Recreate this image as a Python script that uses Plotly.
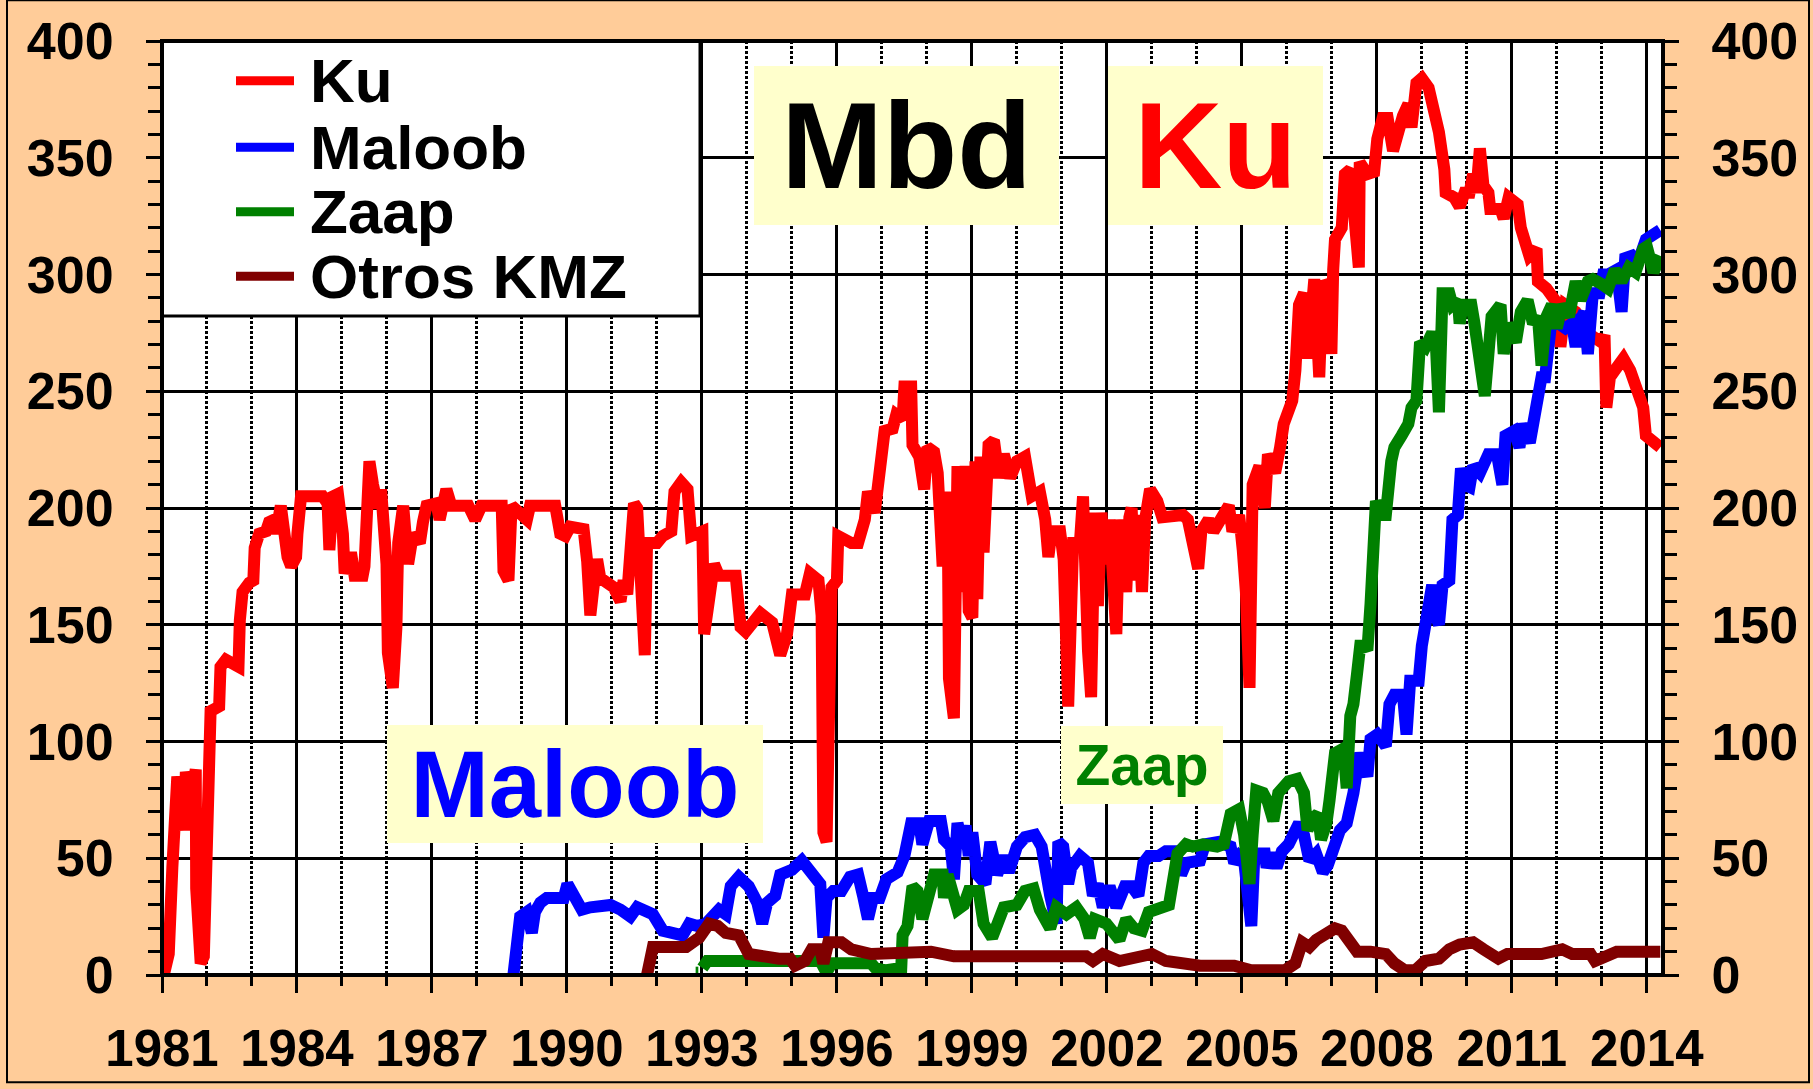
import plotly.graph_objects as go

# ---------------- data ----------------
ku_year = [1981.04, 1981.15, 1981.23, 1981.30, 1981.34, 1981.49, 1981.53, 1981.64, 1981.75, 1981.76,
           1981.86, 1981.93, 1981.97, 1982.04, 1982.08, 1982.27, 1982.30, 1982.42, 1982.70, 1982.73,
           1982.79, 1982.94, 1983.03, 1983.06, 1983.16, 1983.31, 1983.38, 1983.49, 1983.53, 1983.64,
           1983.72, 1983.79, 1983.87, 1983.98, 1984.01, 1984.09, 1984.57, 1984.68, 1984.72, 1984.80,
           1984.91, 1985.02, 1985.06, 1985.20, 1985.28, 1985.46, 1985.50, 1985.54, 1985.61, 1985.69,
           1985.80, 1985.87, 1985.99, 1986.02, 1986.13, 1986.21, 1986.25, 1986.36, 1986.47, 1986.58,
           1986.73, 1986.80, 1986.88, 1987.10, 1987.17, 1987.32, 1987.43, 1987.81, 1987.96, 1988.10,
           1988.55, 1988.59, 1988.70, 1988.77, 1989.11, 1989.18, 1989.74, 1989.85, 1989.96, 1990.07,
           1990.37, 1990.45, 1990.52, 1990.59, 1990.67, 1990.74, 1991.04, 1991.19, 1991.26, 1991.34,
           1991.41, 1991.49, 1991.56, 1991.64, 1991.73, 1991.78, 1992.00,
           1992.13, 1992.32, 1992.39, 1992.54, 1992.68, 1992.76, 1993.01, 1993.05, 1993.16, 1993.27,
           1993.38, 1993.75, 1993.86, 1993.97, 1994.30, 1994.56, 1994.74, 1994.89, 1995.00, 1995.29,
           1995.40, 1995.59, 1995.66, 1995.70, 1995.77, 1995.81, 1995.88, 1996.00, 1996.03, 1996.32,
           1996.47, 1996.62, 1996.69, 1996.84, 1996.91, 1996.99, 1997.06, 1997.24, 1997.32, 1997.46,
           1997.50, 1997.65, 1997.68, 1997.83, 1997.94, 1998.01, 1998.16, 1998.24, 1998.31, 1998.35,
           1998.46, 1998.49, 1998.60, 1998.68, 1998.79, 1998.86, 1998.93, 1999.01, 1999.08, 1999.12,
           1999.19, 1999.26, 1999.37, 1999.49, 1999.60, 1999.71, 1999.85, 2000.00, 2000.18, 2000.33,
           2000.51, 2000.63, 2000.70, 2000.77, 2000.96, 2001.04, 2001.14, 2001.25, 2001.40, 2001.47,
           2001.58, 2001.65, 2001.73, 2001.80, 2001.88, 2001.95, 2002.06, 2002.21, 2002.28, 2002.43,
           2002.50,
           2002.55, 2002.62, 2002.70, 2002.78, 2002.85, 2002.96, 2003.12, 2003.23, 2003.69, 2003.80,
           2003.88, 2004.03, 2004.10, 2004.26, 2004.37, 2004.56, 2004.71, 2004.79, 2004.94, 2005.02,
           2005.09, 2005.17, 2005.21, 2005.24, 2005.39, 2005.51, 2005.58, 2005.74, 2005.85, 2005.93,
           2006.12, 2006.19, 2006.27, 2006.38, 2006.46, 2006.53, 2006.61, 2006.72, 2006.80, 2006.91,
           2006.99, 2007.03, 2007.07, 2007.22, 2007.29, 2007.41, 2007.48, 2007.60, 2007.62, 2007.79,
           2007.94, 2008.01, 2008.13, 2008.24, 2008.36, 2008.47, 2008.58, 2008.70, 2008.77, 2008.88,
           2009.00, 2009.15, 2009.26, 2009.38, 2009.50, 2009.53, 2009.72, 2009.84, 2009.95, 2010.06,
           2010.14, 2010.21, 2010.29, 2010.37, 2010.48, 2010.52, 2010.75, 2010.82, 2010.93, 2011.13,
           2011.20, 2011.32, 2011.39, 2011.55, 2011.58, 2011.77, 2011.96, 2012.04, 2012.08, 2012.19,
           2012.42, 2012.57, 2012.76, 2012.99, 2013.06, 2013.10, 2013.18, 2013.29, 2013.48, 2013.63,
           2013.80, 2013.92, 2013.98, 2014.15, 2014.30]
ku_mbd = [0, 9, 46, 62, 85, 62, 87, 76, 88, 37,
          5, 8, 40, 101, 113, 115, 132, 135, 132, 152,
          164, 168, 169, 183, 189, 190, 194, 195, 189, 201,
          188, 179, 175, 179, 189, 205, 205, 202, 182, 205,
          206, 189, 172, 181, 171, 171, 175, 201, 220, 210,
          200, 208, 176, 138, 123, 149, 185, 201, 176, 189,
          185, 194, 201, 202, 195, 208, 201, 201, 195, 201,
          201, 173, 169, 201, 195, 201, 201, 189, 188, 192,
          191, 177, 154, 166, 178, 170, 166, 160, 169, 163,
          192, 202, 200, 152, 137, 185, 185,
          188, 190, 207, 211, 208, 188, 190, 146, 161, 176,
          171, 171, 149, 147, 155, 151, 137, 146, 163, 163,
          172, 169, 154, 61, 57, 110, 166, 169, 188, 185,
          185, 195, 207, 198, 212, 229, 233, 234, 240, 238,
          252, 252, 227, 222, 208, 226, 224, 215, 191, 175,
          207, 127, 110, 218, 164, 218, 156, 153, 220, 161,
          222, 181, 227, 229, 213, 223, 213, 220, 222, 205,
          207, 195, 179, 190, 190, 178, 115, 185, 185, 205,
          139, 119, 198, 158, 198, 176, 195, 146, 195, 164,
          196,
          200, 169, 197, 164, 195, 208, 203, 196, 197, 195,
          187, 174, 190, 195, 190, 197, 201, 190, 197, 182,
          164, 123, 169, 210, 218, 200, 223, 215, 226, 236,
          246, 259, 287, 292, 264, 292, 298, 256, 297, 294,
          266, 302, 315, 320, 343, 345, 328, 303, 348, 343,
          344, 358, 367, 367, 353, 363, 368, 373, 363, 382,
          384, 380, 373, 361, 345, 335, 333, 329, 335, 335,
          343, 335, 354, 338, 335, 328, 328, 324, 333, 330,
          320, 312, 308, 311, 297, 294, 289, 284, 269, 287,
          284, 279, 274, 271, 274, 243, 256, 259, 264, 259,
          248, 243, 231, 228, 226]

maloob_year = [1988.81, 1988.88, 1988.96, 1989.11, 1989.22, 1989.29, 1989.41, 1989.55, 1989.93, 1990.01,
               1990.15, 1990.33, 1990.52, 1990.97, 1991.19, 1991.41, 1991.56, 1991.91, 1992.13, 1992.35,
               1992.57, 1992.72, 1992.90, 1993.09, 1993.38, 1993.53, 1993.64, 1993.82, 1994.04, 1994.23,
               1994.34, 1994.45, 1994.63, 1994.74, 1995.00, 1995.22, 1995.40, 1995.63, 1995.70, 1995.77,
               1995.92, 1996.10, 1996.29, 1996.47, 1996.58, 1996.69, 1996.80, 1996.95, 1997.10, 1997.35,
               1997.50, 1997.65, 1997.83, 1997.90, 1998.05, 1998.31, 1998.38, 1998.53, 1998.60, 1998.68,
               1998.79, 1998.86, 1998.93, 1999.01, 1999.12, 1999.30, 1999.41, 1999.56, 1999.71, 1999.82,
               2000.00, 2000.18, 2000.40, 2000.55, 2000.74, 2000.88, 2000.92, 2001.03, 2001.14, 2001.21,
               2001.40, 2001.58, 2001.69, 2001.80, 2001.91, 2002.06, 2002.21, 2002.40, 2002.55, 2002.70,
               2002.81, 2002.93, 2003.15, 2003.31, 2003.53, 2003.65, 2003.76, 2004.07, 2004.18, 2004.48,
               2004.60, 2004.75, 2004.83, 2004.94, 2005.05, 2005.13, 2005.21, 2005.28, 2005.51, 2005.55,
               2005.66, 2005.77, 2005.89, 2006.04, 2006.27, 2006.38, 2006.50, 2006.65, 2006.80, 2006.91,
               2007.10, 2007.18, 2007.33, 2007.41, 2007.48, 2007.56, 2007.63, 2007.79, 2007.86, 2008.01,
               2008.20, 2008.28, 2008.39, 2008.58, 2008.66, 2008.74, 2008.93, 2009.00, 2009.08, 2009.15,
               2009.23, 2009.31, 2009.38, 2009.46, 2009.61, 2009.68, 2009.80, 2009.87, 2009.95, 2010.06,
               2010.14, 2010.29, 2010.48, 2010.67, 2010.79, 2010.86, 2011.05, 2011.17, 2011.25, 2011.40,
               2011.47, 2011.58, 2011.66, 2011.74, 2011.81, 2011.89, 2012.04, 2012.19, 2012.34, 2012.42,
               2012.49, 2012.61, 2012.69, 2012.80, 2012.95, 2013.03, 2013.14, 2013.33, 2013.44, 2013.52,
               2013.67, 2013.80, 2013.98, 2014.15, 2014.30]
maloob_mbd = [0, 12, 25, 27, 18, 27, 31, 33, 33, 39,
              33, 28, 29, 30, 28, 25, 29, 26, 19, 18,
              17, 22, 21, 22, 28, 26, 38, 42, 38, 31,
              22, 31, 34, 43, 45, 49, 44, 39, 16, 33,
              36, 36, 42, 43, 34, 24, 33, 33, 41, 44,
              51, 65, 65, 56, 66, 66, 58, 55, 41, 65,
              56, 64, 51, 61, 43, 39, 57, 43, 51, 44,
              55, 59, 60, 55, 34, 22, 57, 55, 39, 46,
              51, 48, 34, 39, 29, 38, 29, 38, 38, 34,
              48, 51, 51, 53, 53, 43, 48, 49, 56, 57,
              56, 55, 48, 51, 49, 34, 21, 52, 52, 46,
              52, 46, 53, 56, 65, 60, 49, 52, 44, 47,
              57, 62, 65, 70, 78, 88, 95, 85, 101, 103,
              98, 116, 120, 120, 103, 126, 126, 141, 149, 162,
              167, 154, 150, 167, 169, 195, 197, 217, 210, 209,
              218, 215, 223, 223, 210, 231, 233, 226, 236, 228,
              236, 243, 256, 256, 274, 282, 279, 277, 279, 269,
              279, 284, 266, 292, 292, 300, 300, 302, 284, 307,
              308, 305, 315, 317, 319]

zaap_year = [1992.86, 1992.92, None, 1993.01, 1993.12, 1995.59, 1995.66, 1995.77, 1995.88, 1996.76,
             1996.85, 1997.06, 1997.43, 1997.46, 1997.57, 1997.68, 1997.79, 1997.90, 1998.01, 1998.16,
             1998.35, 1998.38, 1998.46, 1998.68, 1998.82, 1998.93, 1999.15, 1999.26, 1999.45, 1999.60,
             1999.71, 2000.00, 2000.18, 2000.37, 2000.51, 2000.74, 2000.88, 2001.10, 2001.32, 2001.50,
             2001.62, 2001.73, 2001.99, 2002.28, 2002.43, 2002.60, 2002.78, 2002.93, 2003.15, 2003.38,
             2003.57, 2003.76, 2003.91, 2004.14, 2004.45, 2004.60, 2004.75, 2004.94, 2005.05, 2005.17,
             2005.24, 2005.32, 2005.47, 2005.58, 2005.70, 2005.81, 2006.04, 2006.23, 2006.38, 2006.46,
             2006.57, 2006.69, 2006.76, 2006.88, 2006.95, 2007.07, 2007.26, 2007.33, 2007.41, 2007.48,
             2007.56, 2007.63, 2007.71, 2007.79, 2007.86, 2007.90, 2007.98, 2008.09, 2008.20, 2008.32,
             2008.39, 2008.55, 2008.70, 2008.77, 2008.88, 2008.96, 2009.08, 2009.23, 2009.31, 2009.38,
             2009.42, 2009.46, 2009.61, 2009.68, 2009.80, 2009.84, 2009.91, 2010.10, 2010.17, 2010.29,
             2010.40, 2010.48, 2010.55, 2010.75, 2010.82, 2010.93, 2011.09, 2011.20, 2011.35, 2011.47,
             2011.58, 2011.66, 2011.77, 2011.89, 2012.00, 2012.12, 2012.27, 2012.42, 2012.53, 2012.69,
             2012.80, 2012.99, 2013.14, 2013.29, 2013.44, 2013.60, 2013.75, 2013.92, 2014.00, 2014.15,
             2014.30]
zaap_mbd = [1, 1, None, 3, 6, 6, 5, 1, 5, 5,
            3, 2, 3, 17, 21, 38, 36, 24, 33, 43,
            43, 33, 43, 28, 30, 36, 36, 22, 16, 26,
            29, 30, 36, 37, 28, 20, 29, 26, 29, 24,
            16, 24, 22, 15, 24, 20, 19, 27, 29, 30,
            52, 56, 55, 56, 55, 56, 69, 71, 60, 39,
            60, 79, 78, 74, 66, 78, 83, 84, 78, 62,
            67, 69, 58, 65, 75, 95, 97, 80, 111, 116,
            129, 141, 141, 139, 159, 180, 203, 197, 197, 220,
            226, 231, 236, 243, 246, 271, 269, 275, 271, 241,
            264, 292, 292, 287, 289, 279, 287, 287, 279, 266,
            248, 266, 282, 287, 266, 279, 271, 284, 289, 279,
            282, 261, 282, 287, 277, 287, 282, 297, 289, 297,
            298, 296, 294, 302, 297, 303, 301, 311, 312, 301,
            308]

otros_year = [1991.78, 1991.85, 1991.91, 1992.21, 1992.65, 1992.94, 1993.16, 1993.35, 1993.53, 1993.82,
              1994.04, 1994.71, 1994.96, 1995.07, 1995.29, 1995.44, 1995.63, 1995.70, 1995.81, 1996.10,
              1996.32, 1996.76, 1997.50, 1998.09, 1998.60, 1999.71, 2000.44, 2001.54, 2001.69, 2001.91,
              2002.28, 2002.65, 2003.00, 2003.31, 2003.69, 2004.07, 2004.83, 2005.21, 2005.96, 2006.19,
              2006.34, 2006.50, 2006.65, 2006.88, 2007.07, 2007.22, 2007.41, 2007.56, 2007.86, 2008.20,
              2008.39, 2008.62, 2008.85, 2009.08, 2009.38, 2009.61, 2009.84, 2010.14, 2010.37, 2010.70,
              2010.90, 2011.66, 2012.12, 2012.34, 2012.75, 2012.85, 2013.33, 2013.94, 2014.30]
otros_mbd = [0, 10, 12, 12, 12, 16, 22, 21, 18, 17,
             9, 7, 7, 4, 6, 11, 11, 5, 14, 14,
             11, 9, 9, 10, 8, 8, 9, 8, 6, 9,
             6, 8, 9, 6, 5, 4, 4, 2, 2, 5,
             14, 12, 15, 18, 20, 19, 14, 10, 10, 9,
             5, 2, 2, 6, 7, 11, 13, 14, 11, 7,
             9, 9, 11, 9, 9, 6, 10, 10, 10]

series_names = ["Ku", "Maloob", "Zaap", "Otros KMZ"]
series_colors = ["#FF0000", "#0000FF", "#008000", "#800000"]
x_range = [1981, 2014.36]
y_range = [0, 400]

# ---------------- figure ----------------
W, H = 1813, 1089
ML, MR, MT, MB = 162, 150, 38, 110
PW, PH = W - ML - MR, H - MT - MB

def px(xp):
    return (xp - ML) / PW

def py(yp):
    return (H - MB - yp) / PH

fig = go.Figure()
series = [(ku_year, ku_mbd), (maloob_year, maloob_mbd), (zaap_year, zaap_mbd), (otros_year, otros_mbd)]
for (xs, ys), name, col in zip(series, series_names, series_colors):
    fig.add_trace(go.Scatter(x=xs, y=ys, mode="lines", name=name,
                             line=dict(color=col, width=12), showlegend=False,
                             connectgaps=False, hoverinfo="skip"))

# invisible trace to carry the right-hand axis
fig.add_trace(go.Scatter(x=x_range, y=y_range, yaxis="y2", mode="markers",
                         marker=dict(opacity=0), showlegend=False, hoverinfo="skip"))

BOLD = "Liberation Sans, Arial, sans-serif"
NARROW = "Liberation Sans Narrow, Arial Narrow, Liberation Sans, Arial, sans-serif"

yaxis_common = dict(range=y_range, dtick=50, tick0=0, ticks="outside", ticklen=15, tickwidth=3,
                    tickcolor="black", tickfont=dict(family=BOLD, size=52, color="black", weight="bold"),
                    minor=dict(dtick=10, ticks="outside", ticklen=13, tickwidth=3, tickcolor="black",
                               showgrid=False),
                    zeroline=False, showline=False, fixedrange=True, ticklabelstandoff=22)

fig.update_layout(
    width=W, height=H,
    margin=dict(l=ML, r=MR, t=MT, b=MB, pad=0),
    paper_bgcolor="#FFCC99", plot_bgcolor="white",
    showlegend=False,
    xaxis=dict(range=x_range, tick0=1981, dtick=3, tickformat="d", ticks="outside", ticklen=17,
               tickwidth=3, tickcolor="black", showgrid=True, gridcolor="black", gridwidth=3,
               tickfont=dict(family=NARROW, size=51, color="black", weight="bold"),
               minor=dict(dtick=1, tick0=1981, ticks="outside", ticklen=10, tickwidth=2.5,
                          tickcolor="black", showgrid=True, gridcolor="black", gridwidth=2.5,
                          griddash="2.5px,2.5px"),
               zeroline=False, showline=False, ticklabelstandoff=12),
    yaxis=dict(**yaxis_common, showgrid=True, gridcolor="black", gridwidth=3, side="left"),
    yaxis2=dict(**yaxis_common, overlaying="y", side="right", showgrid=False),
)

shapes = []
# legend box
shapes.append(dict(type="rect", xref="paper", yref="paper", x0=0, x1=px(700), y0=py(315), y1=1,
                   fillcolor="white", line=dict(color="black", width=3), layer="above"))
leg_y = [78, 145, 210, 275]
for yy, col in zip(leg_y, series_colors):
    shapes.append(dict(type="line", xref="paper", yref="paper", x0=px(236), x1=px(294),
                       y0=py(yy), y1=py(yy), line=dict(color=col, width=9), layer="above"))
# plot frame
shapes.append(dict(type="rect", xref="paper", yref="paper", x0=0, x1=1, y0=0, y1=1,
                   line=dict(color="black", width=4), layer="above"))
# outer border of the picture
shapes.append(dict(type="rect", xref="paper", yref="paper", x0=px(7), x1=px(1809),
                   y0=py(1087), y1=py(-3), line=dict(color="black", width=2), layer="above"))

annotations = []
for yy, name in zip(leg_y, series_names):
    annotations.append(dict(xref="paper", yref="paper", x=px(308), y=py(yy), xanchor="left",
                            yanchor="middle", text=name, showarrow=False,
                            font=dict(family=BOLD, size=62, color="black", weight="bold")))

boxes = [
    ("Mbd", "black", 122, 754, 1059, 64, 223),
    ("Ku", "#FF0000", 122, 1108, 1323, 64, 223),
    ("Maloob", "#0000FF", 94, 387, 763, 728, 846),
    ("Zaap", "#008000", 57, 1061, 1223, 728, 806),
]
for text, col, size, x0, x1, y0, y1 in boxes:
    annotations.append(dict(xref="paper", yref="paper", x=px((x0 + x1) / 2), y=py((y0 + y1) / 2),
                            xanchor="center", yanchor="middle", width=x1 - x0, height=y1 - y0,
                            bgcolor="#FFFFCC", borderpad=0, borderwidth=0, showarrow=False,
                            align="center", valign="middle", text=text,
                            font=dict(family=BOLD, size=size, color=col, weight="bold")))

fig.update_layout(shapes=shapes, annotations=annotations)

fig.write_html("out.html", config={"displayModeBar": False},
               post_script="document.body.style.margin='0';document.body.style.overflow='hidden';")
